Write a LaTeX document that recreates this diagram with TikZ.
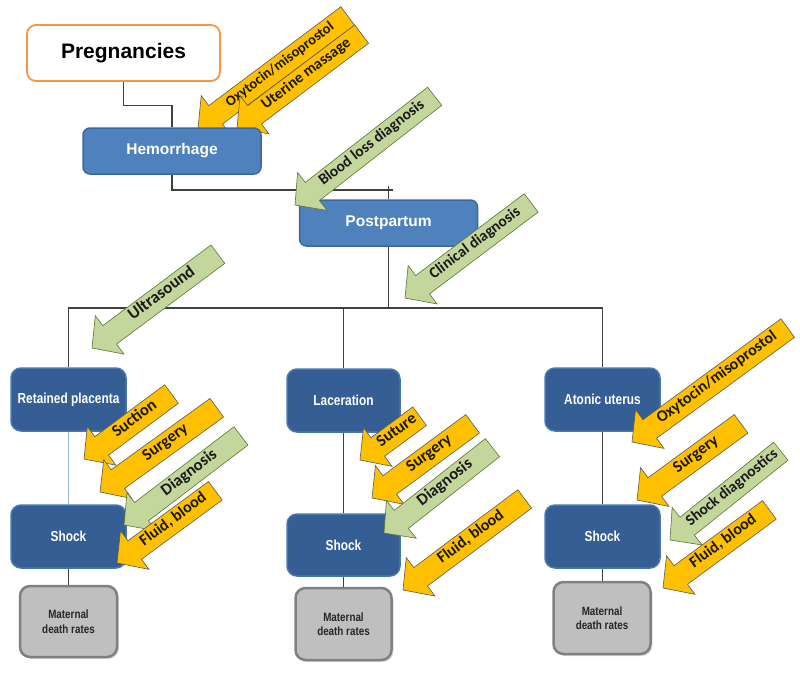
\documentclass[tikz,border=0pt]{standalone}
\usepackage{fontspec}
\usetikzlibrary{shadows}
\setmainfont{Liberation Sans}
\newfontfamily\calibri{Carlito}
\newfontfamily\narrowsans[FakeStretch=0.82]{Liberation Sans}
\definecolor{topblue}{HTML}{4F81BD}
\definecolor{topblueline}{HTML}{3C679E}
\definecolor{darkblue}{HTML}{345E94}
\definecolor{darkblueline}{HTML}{4A77B0}
\definecolor{boxgray}{HTML}{BFBFBF}
\definecolor{boxgrayline}{HTML}{808080}
\definecolor{pregorange}{HTML}{F79646}
\definecolor{arrowyellow}{HTML}{FFC000}
\definecolor{arrowgreen}{HTML}{C3D69B}
\definecolor{greenline}{HTML}{5E7530}
\definecolor{connline}{HTML}{404040}
\definecolor{paleblue}{HTML}{95B3D7}
\tikzset{
 pregbox/.style={draw=pregorange, line width=1.8pt, fill=white, rounded corners=9pt, minimum width=193pt, minimum height=56pt, font=\bfseries\fontsize{21}{24}\selectfont, inner sep=0pt},
 topbox/.style={draw=topblueline, line width=1.5pt, fill=topblue, rounded corners=7pt, minimum width=178pt, minimum height=46pt, text=white, font=\bfseries\fontsize{15.5}{18}\selectfont, inner sep=0pt},
 midbox/.style={draw=darkblueline, line width=1.5pt, fill=darkblue, rounded corners=10pt, minimum width=115pt, minimum height=63pt, text=white, font=\narrowsans\bfseries\fontsize{14.5}{17}\selectfont, inner sep=0pt},
 deathbox/.style={draw=boxgrayline, line width=2.5pt, fill=boxgray, rounded corners=10pt, minimum width=97pt, minimum height=71pt, text=black!85, align=center, font=\narrowsans\bfseries\fontsize{12}{14.5}\selectfont, inner sep=0pt, drop shadow={opacity=0.25, shadow xshift=2pt, shadow yshift=-2pt}},
 conn/.style={draw=connline, line width=1.1pt},
 paleconn/.style={draw=paleblue, line width=1pt},
 yellowarrow/.style={fill=arrowyellow, draw=black!65, line width=0.6pt},
 greenarrow/.style={fill=arrowgreen, draw=greenline, line width=0.6pt},
 arrowlabel/.style={inner sep=0pt, text=black!90, text height=0.68em, text depth=0.2em, font=\calibri\bfseries\fontsize{15.5}{17}\selectfont, transform shape},
}
% #1 arrow style, #2 name, #3 tip, #4 angle, #5 length, #6 text, #7 label options
\newcommand{\blockarrow}[7]{%
 \begin{scope}[shift={(#3)}, rotate=#4]
  \filldraw[#1] (0,0) -- (22,-24) -- (22,-11.5) -- (#5,-11.5) -- (#5,11.5) -- (22,11.5) -- (22,24) -- cycle;
  \node[arrowlabel,#7] (#2) at ({(#5+20)/2},0) {#6};
 \end{scope}}
\begin{document}
\begin{tikzpicture}[x=1pt,y=-1pt]
\useasboundingbox (0,0) rectangle (800,675);
\fill[white] (0,0) rectangle (800,675);

% arrows lying under the Hemorrhage box
\blockarrow{yellowarrow}{aoxyA}{198,128}{36.8}{187}{Oxytocin/misoprostol}{font=\calibri\bfseries\fontsize{14.5}{16}\selectfont}
\blockarrow{yellowarrow}{auter}{237,128}{37}{156}{Uterine massage}{}

% boxes
\node[pregbox] (preg) at (123.5,53) {Pregnancies};
\node[topbox] (hem) at (172,151) {Hemorrhage};
\node[topbox] (post) at (388.5,223) {Postpartum};
\node[midbox] (rp) at (68.5,399.5) {Retained placenta};
\node[midbox, minimum width=113pt] (lac) at (343.5,400.5) {Laceration};
\node[midbox] (atu) at (602.5,399.5) {Atonic uterus};
\node[midbox] (sh1) at (68.5,536.5) {Shock};
\node[midbox, minimum width=113pt, minimum height=62pt] (sh2) at (343.5,545) {Shock};
\node[midbox] (sh3) at (602.5,536.5) {Shock};
\node[deathbox] (md1) at (68.5,621.5) {Maternal\\death rates};
\node[deathbox, minimum width=96pt, minimum height=72pt] (md2) at (343.5,624) {Maternal\\death rates};
\node[deathbox, minimum height=72pt] (md3) at (602,618) {Maternal\\death rates};

% connectors
\coordinate (hend) at (393,190);
\coordinate (ptick) at (388.5,186);
\coordinate (bus) at (388.5,308);
\draw[conn] (preg.south) -- ++(0,24) -| (hem.north);
\draw[conn] (hem.south) |- (hend);
\draw[conn] (post.north) -- (ptick);
\draw[conn] (post.south) -- (bus);
\draw[conn] (rp.north) -- (rp.north |- bus) -- (atu.north |- bus) -- (atu.north);
\draw[conn] (lac.north) -- (lac.north |- bus);
\draw[paleconn] (rp.south) -- (sh1.north);
\draw[conn] (lac.south) -- (sh2.north);
\draw[conn] (atu.south) -- (sh3.north);
\draw[conn] (sh1.south) -- (sh1.south |- md1.north);
\draw[conn] (sh2.south) -- (sh2.south |- md2.north);
\draw[conn] (sh3.south) -- (sh3.south |- md3.north);

% diagnosis / treatment arrows
\blockarrow{greenarrow}{ablood}{295,205}{37.9}{177}{Blood loss diagnosis}{}
\blockarrow{greenarrow}{aclin}{405,298}{37}{158}{Clinical diagnosis}{}
\blockarrow{greenarrow}{aultra}{92,348}{36.7}{157}{Ultrasound}{font=\calibri\bfseries\fontsize{17}{19}\selectfont}

\blockarrow{yellowarrow}{asuc}{84,459}{36.6}{109}{Suction}{font=\calibri\bfseries\fontsize{16.5}{19}\selectfont}
\blockarrow{yellowarrow}{asurgA}{100,492}{35.8}{144}{Surgery}{font=\calibri\bfseries\fontsize{16.5}{19}\selectfont}
\blockarrow{greenarrow}{adiagA}{124,525}{37.3}{147}{Diagnosis}{font=\calibri\bfseries\fontsize{16.5}{19}\selectfont}
\blockarrow{yellowarrow}{afluidA}{117,563}{36.3}{122}{Fluid, blood}{font=\calibri\bfseries\fontsize{16}{19}\selectfont}

\blockarrow{yellowarrow}{asut}{360,460}{36.3}{74}{Suture}{font=\calibri\bfseries\fontsize{16.5}{19}\selectfont}
\blockarrow{yellowarrow}{asurgB}{372,498}{36.4}{125}{Surgery}{font=\calibri\bfseries\fontsize{16.5}{19}\selectfont}
\blockarrow{greenarrow}{adiagB}{384,533}{38.2}{138}{Diagnosis}{font=\calibri\bfseries\fontsize{16.5}{19}\selectfont}
\blockarrow{yellowarrow}{afluidB}{403,590}{36.8}{152}{Fluid, blood}{font=\calibri\bfseries\fontsize{16}{19}\selectfont}

\blockarrow{yellowarrow}{aoxyC}{632,442}{36.2}{193}{Oxytocin/misoprostol}{font=\calibri\bfseries\fontsize{16}{18}\selectfont}
\blockarrow{yellowarrow}{asurgC}{637,500}{36.2}{129}{Surgery}{font=\calibri\bfseries\fontsize{16.5}{19}\selectfont}
\blockarrow{greenarrow}{ashockd}{670,540}{38.7}{142}{Shock diagnostics}{}
\blockarrow{yellowarrow}{afluidC}{663,588}{36.3}{132}{Fluid, blood}{font=\calibri\bfseries\fontsize{16}{19}\selectfont}
\end{tikzpicture}
\end{document}
